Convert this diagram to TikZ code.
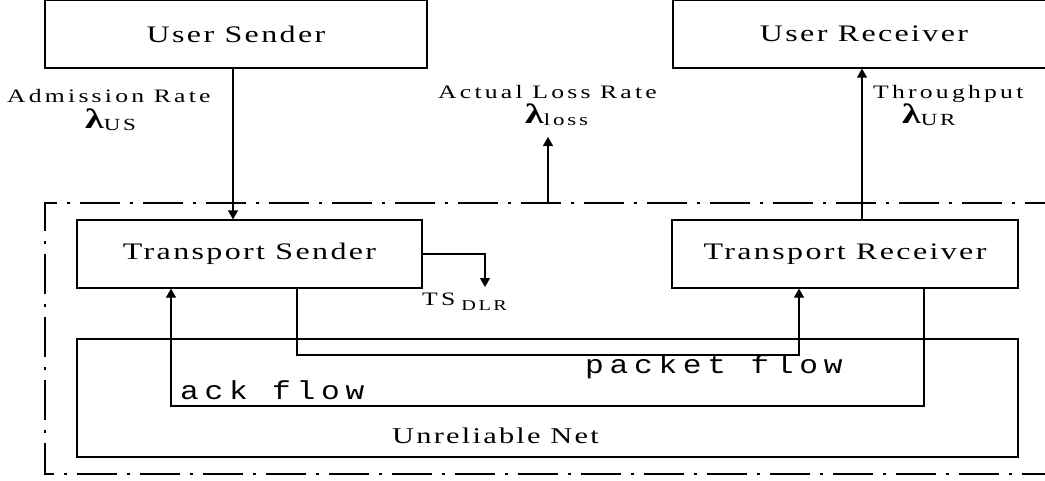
\documentclass[tikz,border=0pt]{standalone}
\usepackage{fontspec}
\setmainfont{Liberation Serif}
\newfontfamily\boxfont[FakeStretch=1.35,LetterSpace=10]{Liberation Serif}
\newfontfamily\ratefont[FakeStretch=1.35,LetterSpace=17]{Liberation Serif}
\newfontfamily\flowfont[FakeStretch=1.2,LetterSpace=22]{Liberation Mono}
\usetikzlibrary{arrows.meta,positioning}
\tikzstyle{block} = [draw,line width=1.3pt,rectangle,inner sep=0,font=\boxfont\fontsize{23.7}{28}\selectfont]
\tikzstyle{flow} = [-{Triangle[length=9pt,width=10pt]},line width=1.3pt]
\tikzstyle{rate} = [anchor=base west,inner sep=0,font=\ratefont\fontsize{19}{22}\selectfont]
\tikzstyle{flowlabel} = [anchor=base west,inner sep=0,font=\flowfont\fontsize{26}{30}\selectfont]
\tikzstyle{frame} = [line width=1.3pt,dash pattern=on 40pt off 10pt on 3pt off 10pt]
\newcommand{\lam}[1]{{\fontsize{28}{30}\selectfont\bfseries λ}\raisebox{-2pt}{\fontsize{17}{19}\selectfont #1}}

\begin{document}
\begin{tikzpicture}[x=1pt,y=-1pt]
  \useasboundingbox (0,0) rectangle (1045,480);
  \clip (0,0) rectangle (1045,480);
  % boxes
  \node[block,minimum width=382pt,minimum height=68pt] (us) at (236,34) {User Sender};
  \node[block,minimum width=382pt,minimum height=68pt] (ur) at (864,34) {User Receiver};
  \node[block,minimum width=345pt,minimum height=68pt] (ts) at (249.5,254) {Transport Sender};
  \node[block,minimum width=346pt,minimum height=68pt] (tr) at (845,254) {Transport Receiver};
  \node[block,minimum width=941pt,minimum height=118pt] (net) at (547.5,398) {};
  \node[anchor=base west,inner sep=0,font=\boxfont\fontsize{22.5}{26}\selectfont] (netlabel) at (392,443) {Unreliable Net};
  % transport layer frame
  \draw[frame] (1065,203) -- (45,203) -- (45,474) -- (1065,474);
  % rates
  \coordinate (admit) at (233,0);
  \coordinate (thru) at (862,0);
  \coordinate (lossbase) at (548,203);
  \coordinate (losstip) at (548,137);
  \coordinate (dlr) at (485,287);
  \draw[flow] (admit |- us.south) -- (admit |- ts.north);
  \draw[flow] (thru |- tr.north) -- (thru |- ur.south);
  \draw[flow] (lossbase) -- (losstip);
  \draw[flow] (ts.east) -| (dlr);
  \node[rate] (admlabel) at (7,102) {Admission Rate};
  \node[rate] (admlam) at (85,128) {\lam{US}};
  \node[rate] (losslabel) at (438,98) {Actual Loss Rate};
  \node[rate] (losslam) at (525,123) {\lam{loss}};
  \node[rate] (thrlabel) at (873,98) {Throughput};
  \node[rate] (thrlam) at (902,123) {\lam{UR}};
  \node[rate] (dlrlabel) at (422,305) {TS\hspace{6pt}\raisebox{-5pt}{\fontsize{15}{17}\selectfont DLR}};
  % packet and ack flows
  \coordinate (pktdown) at (297,355);
  \coordinate (pktup) at (799,355);
  \coordinate (ackdown) at (924,406);
  \coordinate (ackup) at (171,406);
  \draw[flow] (pktdown |- ts.south) -- (pktdown) -- (pktup) -- (pktup |- tr.south);
  \draw[flow] (ackdown |- tr.south) -- (ackdown) -- (ackup) -- (ackup |- ts.south);
  \node[flowlabel] (pktlabel) at (585,373) {packet flow};
  \node[flowlabel] (acklabel) at (180,399) {ack flow};
\end{tikzpicture}
\end{document}
